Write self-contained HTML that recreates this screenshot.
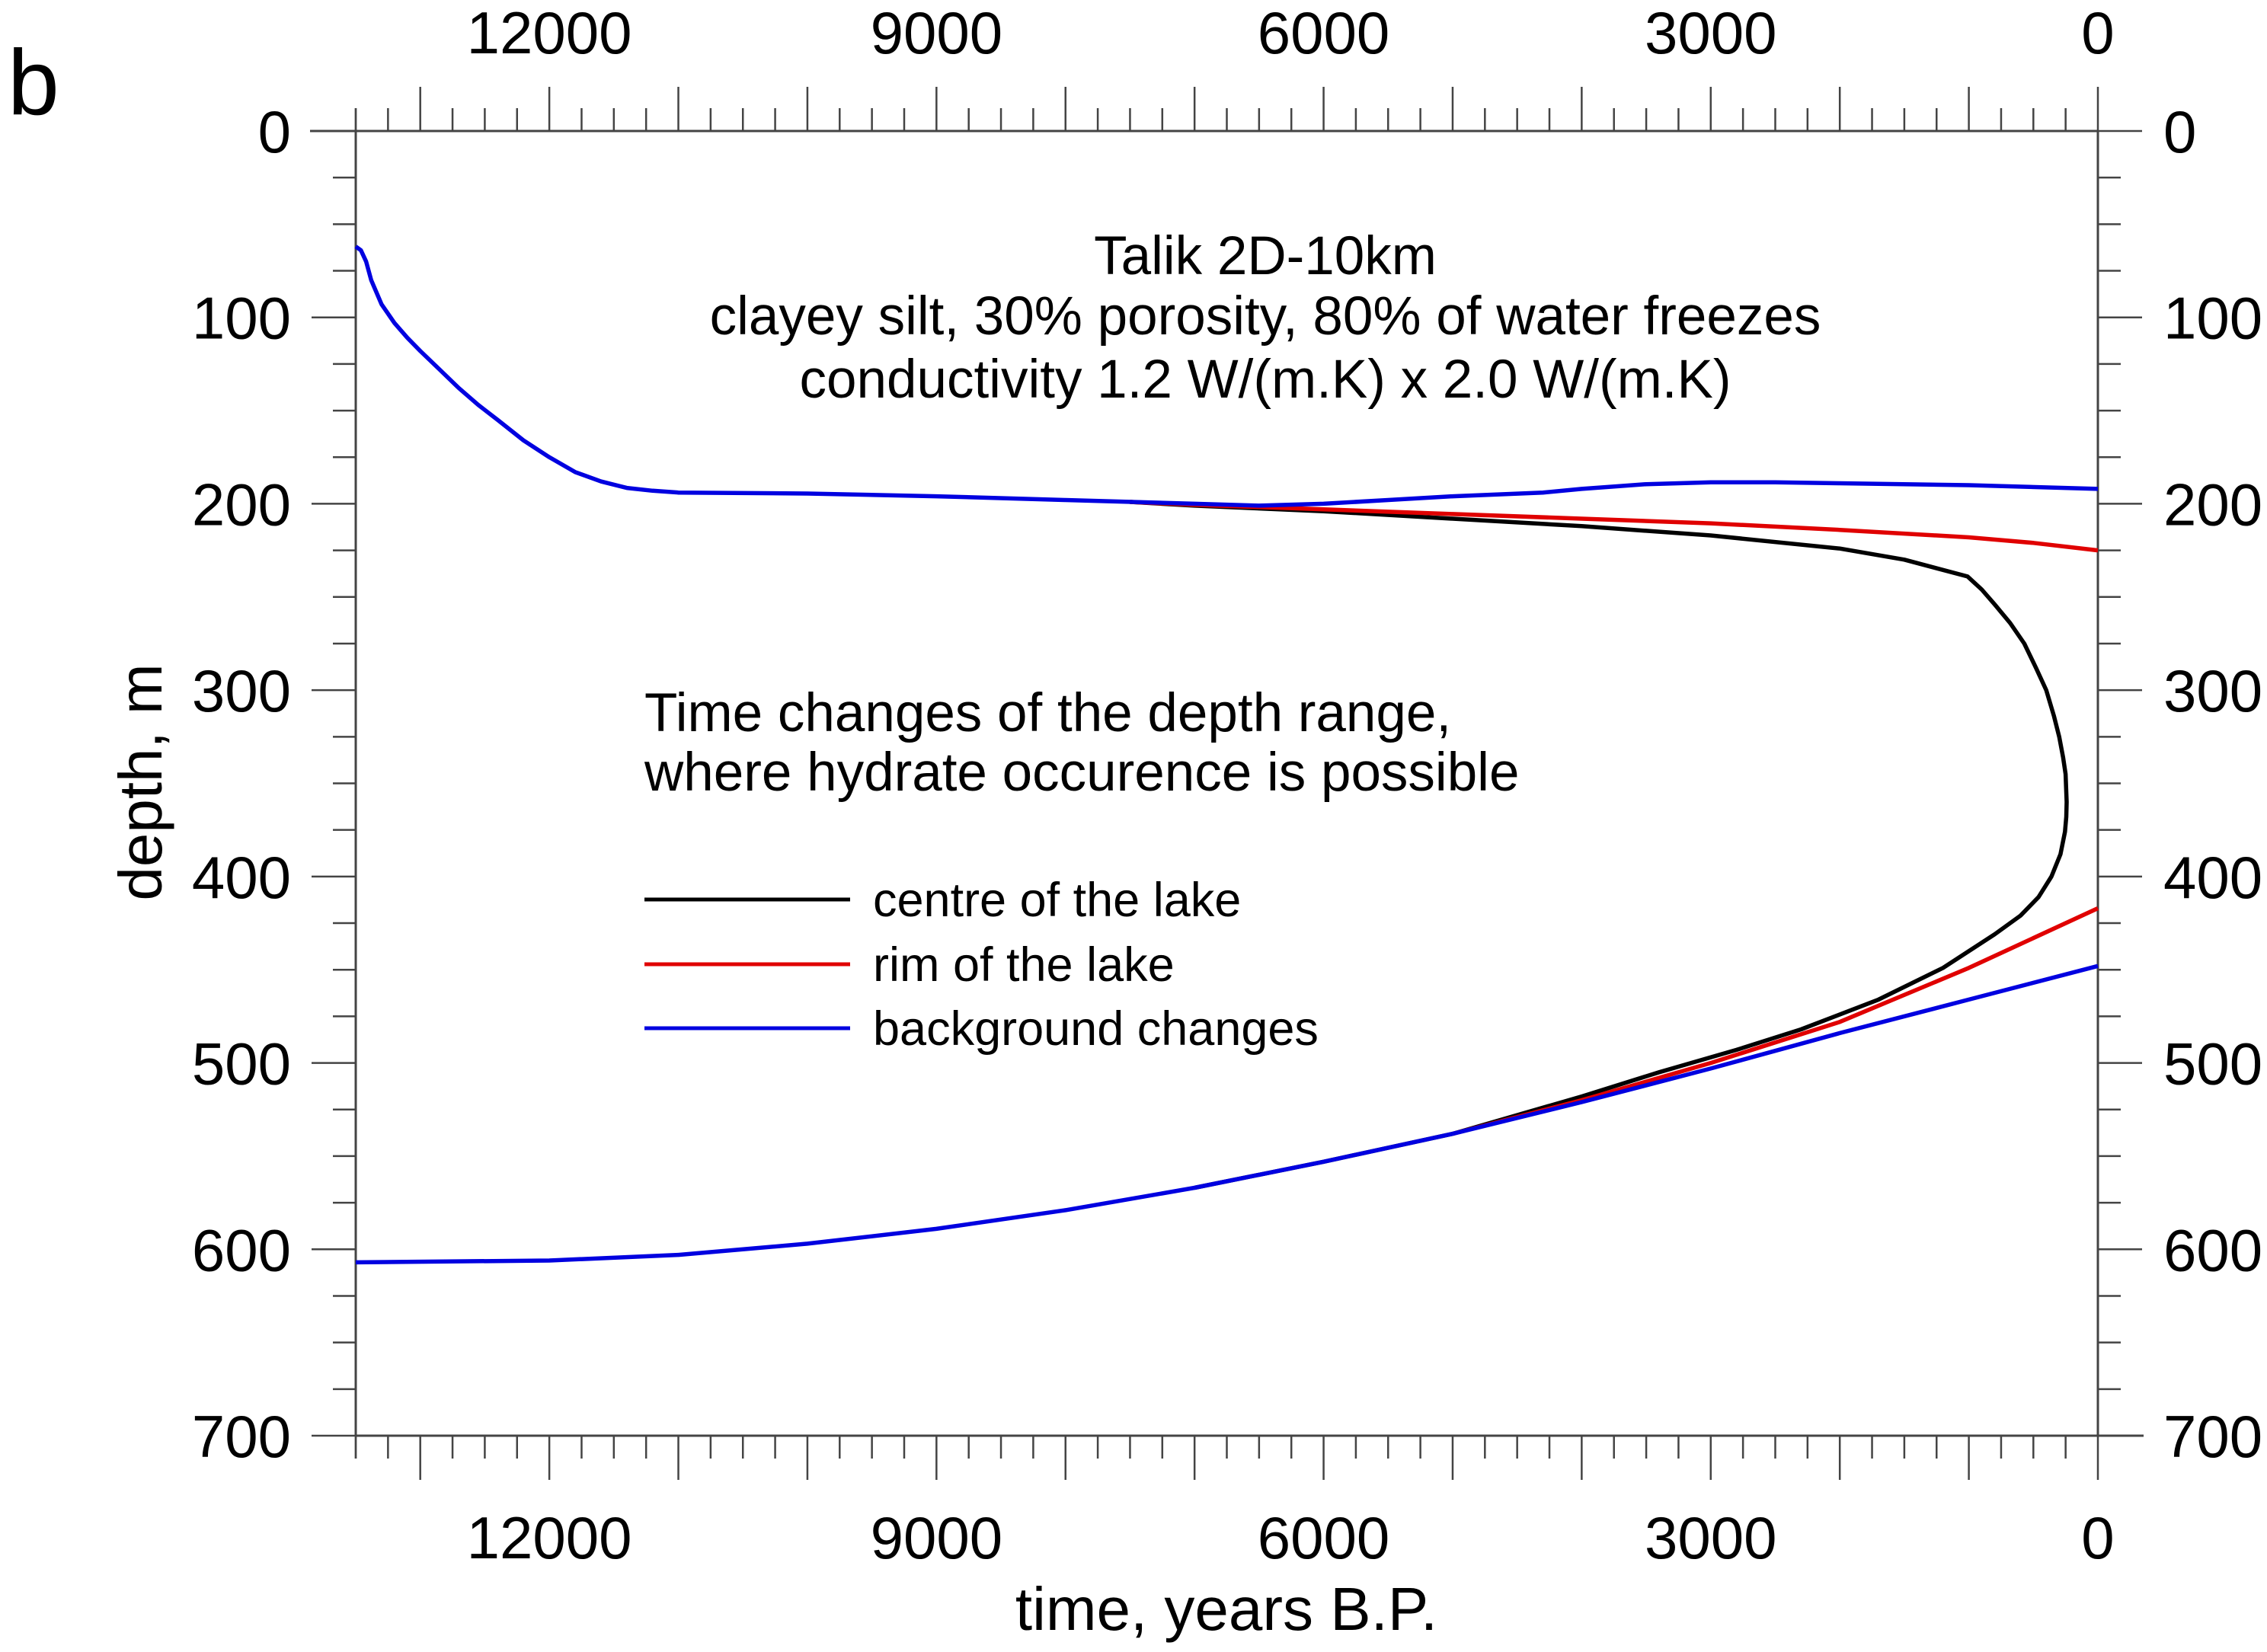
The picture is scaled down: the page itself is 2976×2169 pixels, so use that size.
<!DOCTYPE html>
<html><head><meta charset="utf-8"><style>
html,body{margin:0;padding:0;background:#fff;}
svg{display:block;font-family:"Liberation Sans",Arial,sans-serif;}
</style></head><body>
<svg id="chart" width="2976" height="2169" viewBox="0 0 2976 2169" xmlns="http://www.w3.org/2000/svg">
<text x="10" y="150" font-size="122">b</text>
<g id="axes"></g>
<g id="series"></g>
<g font-size="71" text-anchor="middle" fill="#000">
<text x="1661" y="360">Talik 2D-10km</text>
<text x="1661" y="439">clayey silt, 30% porosity, 80% of water freezes</text>
<text x="1661" y="522">conductivity 1.2 W/(m.K) x 2.0 W/(m.K)</text>
</g>
<g font-size="71" fill="#000">
<text x="846" y="960">Time changes of the depth range,</text>
<text x="846" y="1038">where hydrate occurence is possible</text>
</g>
<g font-size="63">
<g><line x1="846" y1="1181" x2="1116" y2="1181" stroke="#000" stroke-width="5"/><text x="1146" y="1203">centre of the lake</text></g>
<g><line x1="846" y1="1266" x2="1116" y2="1266" stroke="#e00000" stroke-width="5"/><text x="1146" y="1288">rim of the lake</text></g>
<g><line x1="846" y1="1350" x2="1116" y2="1350" stroke="#0000e0" stroke-width="5"/><text x="1146" y="1372">background changes</text></g>
</g>
<text font-size="80" text-anchor="middle" transform="translate(212,1027) rotate(-90)">depth, m</text>
<text font-size="80" text-anchor="middle" x="1610" y="2140">time, years B.P.</text>
</svg>
<script>
const xTickLabels = [12000, 9000, 6000, 3000, 0];
const yTickLabels = [0, 100, 200, 300, 400, 500, 600, 700];
const blueUpperT = [13500, 13460, 13420, 13380, 13300, 13200, 13100, 13000, 12850, 12700, 12550, 12400, 12200, 12000, 11800, 11600, 11400, 11200, 11000, 10000, 9000, 8000, 7000, 6500, 6000, 5500, 5000, 4300, 4000, 3500, 3000, 2500, 2000, 1000, 0];
const blueUpperD = [62, 64, 70, 80, 93, 103, 111, 118, 128, 138, 147, 155, 166, 175, 183, 188, 191.5, 193, 194, 194.5, 196, 198, 200, 201, 200, 198, 196, 194, 192, 189.5, 188.5, 188.5, 189, 190, 192];
const blueLowerT = [13500, 12000, 11000, 10000, 9000, 8000, 7000, 6000, 5000, 4000, 3000, 2000, 1000, 0];
const blueLowerD = [607, 606, 603, 597, 589, 579, 567, 553, 538, 521, 503, 484, 466, 448];
const blackT = [7500, 7000, 6000, 5000, 4000, 3000, 2000, 1500, 1010, 900, 800, 680, 570, 480, 400, 340, 300, 270, 250, 242, 245, 255, 290, 360, 460, 600, 800, 1200, 1700, 2300, 2800, 3400, 4000, 5000, 6000, 7000];
const blackD = [199, 201, 204, 208, 212, 217, 224, 230, 239, 246, 254, 264, 275, 288, 300, 314, 325, 336, 345, 360, 368, 376, 388, 400, 411, 421, 431, 449, 466, 482, 493, 505, 518, 538, 553, 567];
const redUpperT = [7500, 7000, 6000, 5000, 4000, 3000, 2000, 1000, 500, 0];
const redUpperD = [199, 200.5, 203, 205.5, 208, 210.5, 214, 218, 221, 225];
const redLowerT = [5000, 4000, 3000, 2000, 1000, 0];
const redLowerD = [538, 520, 500, 478, 449, 417];

const xL = 467, xR = 2754, yT = 172, yB = 1885;
const tMax = 13500;
const xs = t => xR - (t / tMax) * (xR - xL);
const ys = d => yT + (d / 700) * (yB - yT);
const NS = 'http://www.w3.org/2000/svg';
const axes = document.getElementById('axes');
const series = document.getElementById('series');
function mk(tag, attrs, parent) {
  const e = document.createElementNS(NS, tag);
  for (const k in attrs) e.setAttribute(k, attrs[k]);
  parent.appendChild(e);
  return e;
}
const ax = '#444';
let e;
e = mk('line', {x1: xL - 60, y1: yT, x2: xR, y2: yT, stroke: ax, 'stroke-width': 3}, axes);


e = mk('line', {x1: xL, y1: yB, x2: xR + 60, y2: yB, stroke: ax, 'stroke-width': 3}, axes);


e = mk('line', {x1: xL, y1: yT, x2: xL, y2: yB, stroke: ax, 'stroke-width': 3}, axes);


e = mk('line', {x1: xR, y1: yT, x2: xR, y2: yB, stroke: ax, 'stroke-width': 3}, axes);


for (let t = 0; t <= tMax; t += 250) {
  const major = t % 1000 === 0;
  const len = major ? 58 : 30;
  const x = xs(t);
  e = mk('line', {x1: x, y1: yT, x2: x, y2: yT - len, stroke: ax, 'stroke-width': 2.5}, axes);
  
  
  e = mk('line', {x1: x, y1: yB, x2: x, y2: yB + len, stroke: ax, 'stroke-width': 2.5}, axes);
  
  
}
e = mk('line', {x1: xL, y1: yT, x2: xL, y2: yT - 30, stroke: ax, 'stroke-width': 2.5}, axes);


e = mk('line', {x1: xL, y1: yB, x2: xL, y2: yB + 30, stroke: ax, 'stroke-width': 2.5}, axes);


xTickLabels.forEach(v => {
  e = mk('text', {x: xs(v), y: 70, 'font-size': 78, 'text-anchor': 'middle'}, axes);
  e.textContent = v;
  
  
  e = mk('text', {x: xs(v), y: 2046, 'font-size': 78, 'text-anchor': 'middle'}, axes);
  e.textContent = v;
  
  
});
for (let d = 0; d <= 700; d += 25) {
  const major = d % 100 === 0;
  const y = ys(d);
  const len = major ? 58 : 30;
  e = mk('line', {x1: xL, y1: y, x2: xL - len, y2: y, stroke: ax, 'stroke-width': 2.5}, axes);
  
  
  e = mk('line', {x1: xR, y1: y, x2: xR + len, y2: y, stroke: ax, 'stroke-width': 2.5}, axes);
  
  
}
yTickLabels.forEach(v => {
  e = mk('text', {x: 382, y: ys(v) + 28, 'font-size': 78, 'text-anchor': 'end'}, axes);
  e.textContent = v;
  
  
  e = mk('text', {x: 2840, y: ys(v) + 28, 'font-size': 78, 'text-anchor': 'start'}, axes);
  e.textContent = v;
  
  
});
function pts(T, D) { return T.map((t, i) => xs(t).toFixed(1) + ',' + ys(D[i]).toFixed(1)).join(' '); }
const sw = 5.5;
e = mk('polyline', {points: pts(blackT, blackD), fill: 'none', stroke: '#000', 'stroke-width': sw, 'stroke-linejoin': 'round'}, series);


e = mk('polyline', {points: pts(redUpperT, redUpperD), fill: 'none', stroke: '#e00000', 'stroke-width': sw, 'stroke-linejoin': 'round'}, series);


e = mk('polyline', {points: pts(redLowerT, redLowerD), fill: 'none', stroke: '#e00000', 'stroke-width': sw, 'stroke-linejoin': 'round'}, series);


e = mk('polyline', {points: pts(blueUpperT, blueUpperD), fill: 'none', stroke: '#0000e0', 'stroke-width': sw, 'stroke-linejoin': 'round'}, series);


e = mk('polyline', {points: pts(blueLowerT, blueLowerD), fill: 'none', stroke: '#0000e0', 'stroke-width': sw, 'stroke-linejoin': 'round'}, series);


</script>
</body></html>
